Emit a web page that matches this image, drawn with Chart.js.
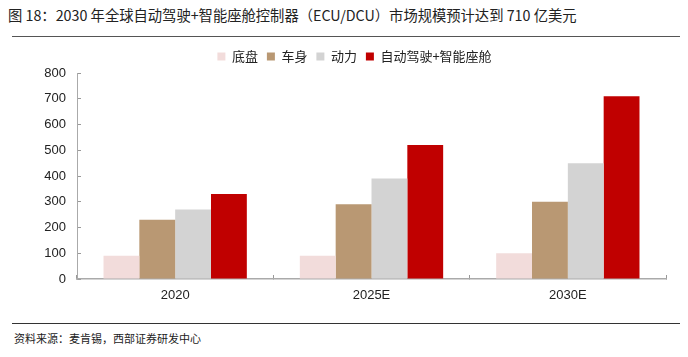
<!DOCTYPE html>
<html><head><meta charset="utf-8">
<script src="https://cdn.jsdelivr.net/npm/chart.js@4/dist/chart.umd.min.js"></script>
<style>
body{margin:0;width:688px;height:357px;background:#fff;position:relative;overflow:hidden;font-family:"Noto Sans CJK SC",sans-serif;}
#title{position:absolute;left:8px;top:4px;font-size:14.3px;color:#222;white-space:nowrap;}
#l1{position:absolute;left:12px;top:36px;width:668px;height:1px;background:#555;}
#l2{position:absolute;left:12px;top:323px;width:668px;height:1px;background:#333;}
#src{position:absolute;left:14px;top:330px;font-size:11px;color:#222;}
#wrap{position:absolute;left:43px;top:40px;width:645px;height:270px;}
</style></head><body>
<div id="title">图 18：2030 年全球自动驾驶+智能座舱控制器（ECU/DCU）市场规模预计达到 710 亿美元</div>
<div id="l1"></div>
<div id="wrap"><canvas id="c"></canvas></div>
<div id="l2"></div>
<div id="src">资料来源：麦肯锡，西部证券研发中心</div>
<script>
const categories = ["2020", "2025E", "2030E"];
const seriesNames = ["底盘", "车身", "动力", "自动驾驶+智能座舱"];
const chassis = [90, 90, 100];
const body = [230, 290, 300];
const power = [270, 390, 450];
const adas = [330, 520, 710];
const colors = ["#f2dcdb", "#b99873", "#d3d3d3", "#c00000"];
const yTicks = [0, 100, 200, 300, 400, 500, 600, 700, 800];

const data = {
  labels: categories,
  datasets: [chassis, body, power, adas].map((d, i) => ({
    label: seriesNames[i], data: d, backgroundColor: colors[i], borderWidth: 0,
    categoryPercentage: 0.73, barPercentage: 1.0
  }))
};
new Chart(document.getElementById('c'), {
  type: 'bar', data,
  options: {
    responsive: true, maintainAspectRatio: false, animation: false,
    layout: { padding: { left: 0, right: 22, top: 1, bottom: 0 } },
    plugins: {
      legend: { position: 'top', labels: { boxWidth: 8, boxHeight: 8, padding: 9,
        font: { size: 13, family: '"Noto Sans CJK SC"' }, color: '#222' } },
      tooltip: { enabled: false }
    },
    scales: {
      x: {
        afterFit: s => { s.height = 31; },
        grid: { drawOnChartArea: false, tickLength: -4, color: '#999', offset: true },
        border: { color: '#aaa', width: 1.5 },
        ticks: { font: { size: 13, family: '"Liberation Sans", Arial' }, color: '#222', padding: 13 }
      },
      y: {
        min: 0, max: 800,
        afterFit: s => { s.width = 34; },
        afterBuildTicks: s => { s.ticks = yTicks.map(v => ({ value: v })); },
        grid: { drawOnChartArea: false, tickLength: -4, color: '#999' },
        border: { color: '#aaa' },
        ticks: { font: { size: 13, family: '"Liberation Sans", Arial' }, color: '#222', padding: 15 }
      }
    }
  }
});
</script></body></html>
